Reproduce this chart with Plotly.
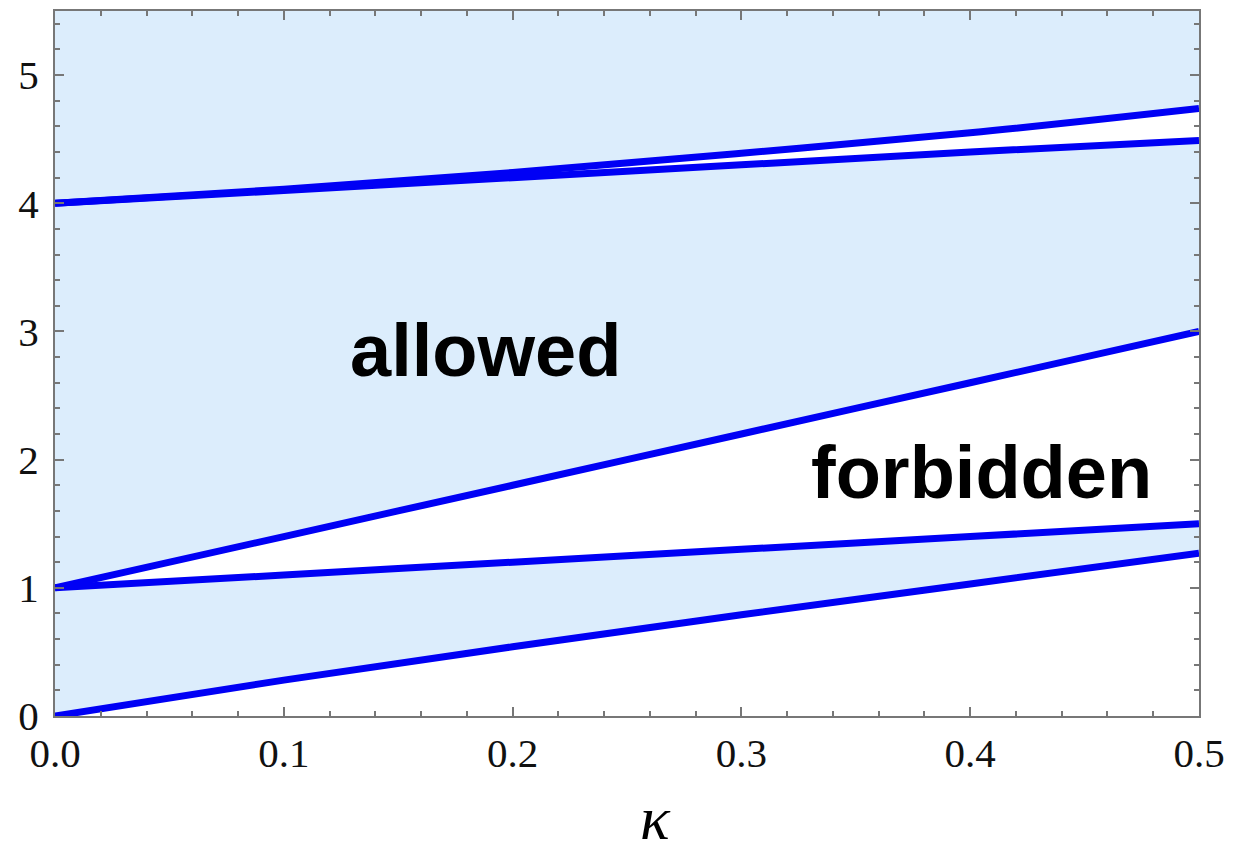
import plotly.graph_objects as go

kappa = [0.0, 0.1, 0.2, 0.3, 0.4, 0.5]
curve1 = [0.0, 0.28, 0.54, 0.79, 1.03, 1.27]
curve2 = [1.0, 1.1, 1.2, 1.3, 1.4, 1.5]
curve3 = [1.0, 1.4, 1.8, 2.2, 2.6, 3.0]
curve4 = [4.0, 4.1, 4.2, 4.3, 4.4, 4.49]
curve5 = [4.0, 4.11, 4.24, 4.39, 4.55, 4.74]
top = [5.5] * len(kappa)

x_ticks = [0.0, 0.1, 0.2, 0.3, 0.4, 0.5]
y_ticks = [0, 1, 2, 3, 4, 5]

FILL = "#DCEDFC"
LINE = "#0000F5"

fig = go.Figure()

bands = [(curve1, curve2), (curve3, curve4), (curve5, top)]
for lo, hi in bands:
    fig.add_trace(go.Scatter(x=kappa, y=lo, mode="lines", line=dict(width=0, shape="spline"),
                             showlegend=False, hoverinfo="skip"))
    fig.add_trace(go.Scatter(x=kappa, y=hi, mode="lines", line=dict(width=0, shape="spline"),
                             fill="tonexty", fillcolor=FILL, showlegend=False, hoverinfo="skip"))

for c in [curve1, curve2, curve3, curve4, curve5]:
    fig.add_trace(go.Scatter(x=kappa, y=c, mode="lines",
                             line=dict(color=LINE, width=7, shape="spline"),
                             showlegend=False))

tickfont = dict(family="Liberation Serif", size=41, color="#111111")
fig.update_xaxes(range=[0, 0.5], tickvals=x_ticks, ticktext=[f"{v:.1f}" for v in x_ticks],
                 ticks="inside", ticklen=9, tickwidth=2, tickcolor="#777777",
                 minor=dict(ticks="inside", dtick=0.02, ticklen=5, tickwidth=1.5, tickcolor="#777777"),
                 showline=True, linecolor="#777777", linewidth=2, mirror="ticks",
                 showgrid=False, zeroline=False, tickfont=tickfont)
fig.update_yaxes(range=[0, 5.5], tickvals=y_ticks,
                 ticks="inside", ticklen=9, tickwidth=2, tickcolor="#777777",
                 minor=dict(ticks="inside", dtick=0.2, ticklen=5, tickwidth=1.5, tickcolor="#777777"),
                 showline=True, linecolor="#777777", linewidth=2, mirror="ticks",
                 showgrid=False, zeroline=False, tickfont=tickfont, ticklabelstandoff=6)

fig.add_annotation(x=(655 - 55) / (1199 - 55), y=-(818 - 716) / (716 - 9), xref="paper", yref="paper",
                   text="<i>κ</i>", showarrow=False, xanchor="center", yanchor="middle",
                   font=dict(family="Liberation Serif", size=62, color="black"))

labfont = dict(family="Liberation Sans", size=74, color="black")
fig.add_annotation(x=0.188, y=2.85, text="<b>allowed</b>", showarrow=False, font=labfont)
fig.add_annotation(x=0.405, y=1.9, text="<b>forbidden</b>", showarrow=False, font=labfont)

fig.update_layout(width=1256, height=857, margin=dict(l=55, r=57, t=9, b=141),
                  plot_bgcolor="white", paper_bgcolor="white")
fig.write_html("out.html")
